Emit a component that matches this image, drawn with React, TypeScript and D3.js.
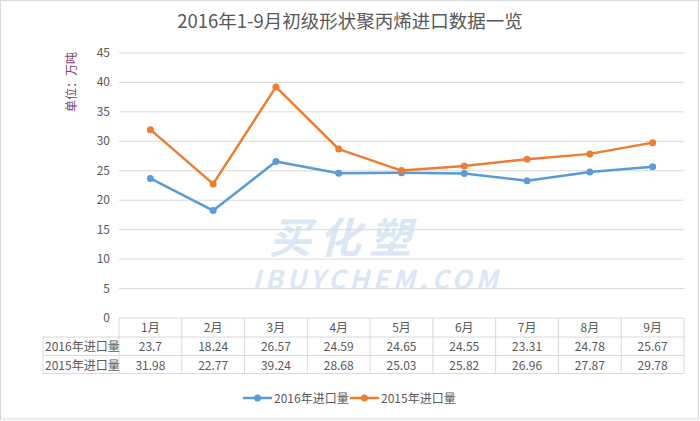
import React from "react";
import * as d3 from "d3";

const months = ["1月", "2月", "3月", "4月", "5月", "6月", "7月", "8月", "9月"];
const series2016 = [23.7, 18.24, 26.57, 24.59, 24.65, 24.55, 23.31, 24.78, 25.67];
const series2015 = [31.98, 22.77, 39.24, 28.68, 25.03, 25.82, 26.96, 27.87, 29.78];
const seriesNames = ["2016年进口量", "2015年进口量"];
const seriesColors = ["#5B9BD5", "#ED7D31"];
const yTicks = [0, 5, 10, 15, 20, 25, 30, 35, 40, 45];
const title = "2016年1-9月初级形状聚丙烯进口数据一览";
const yLabel = "单位：万吨";

const W = 700;
const H = 421;
const left = 119;
const right = 684;
const top = 53;
const bottom = 318;
const font = "'Microsoft YaHei', 'Noto Sans CJK SC', 'DejaVu Sans', sans-serif";

export default function App() {
  const x = d3.scaleBand<string>().domain(months).range([left, right]);
  const y = d3.scaleLinear().domain([0, 45]).range([bottom, top]);
  const line = d3
    .line<number>()
    .x((_, i) => (x(months[i]) as number) + x.bandwidth() / 2)
    .y((d) => y(d));
  const data = [series2016, series2015];
  const rowY = [318, 337, 355.5, 373.5];
  const labelLeft = 43;
  const legendX = [243, 350];

  return (
    <svg
      width={W}
      height={H}
      style={{ position: "absolute", left: 0, top: 0, background: "#fff" }}
      fontFamily={font}
    >
      <rect x={0.5} y={0.5} width={698} height={418.5} fill="#fff" stroke="#d9d9d9" />
      <text x={350} y={28} textAnchor="middle" fontSize={18.5} fill="#595959">
        {title}
      </text>
      <text
        transform="translate(76,82) rotate(-90)"
        textAnchor="middle"
        fontSize={12}
        fill="#7a3e6e"
      >
        {yLabel}
      </text>
      <g opacity={0.5}>
        <text
          x={344}
          y={253}
          textAnchor="middle"
          fontSize={42}
          fontWeight="bold"
          fontStyle="italic"
          fill="#b9d1ea"
          letterSpacing={8}
        >
          买化塑
        </text>
        <text
          x={377}
          y={289}
          textAnchor="middle"
          fontSize={26}
          fontWeight="bold"
          fontStyle="italic"
          fill="#b9d1ea"
          letterSpacing={4}
        >
          IBUYCHEM.COM
        </text>
      </g>
      {yTicks.map((t) => (
        <g key={t}>
          {t > 0 && (
            <line x1={left} x2={right} y1={y(t)} y2={y(t)} stroke="#d9d9d9" strokeWidth={1} />
          )}
          <text x={110} y={y(t) + 4} textAnchor="end" fontSize={12} fill="#595959">
            {t}
          </text>
        </g>
      ))}
      <g stroke="#d9d9d9" strokeWidth={1} fill="none">
        <line x1={left} x2={right} y1={rowY[0]} y2={rowY[0]} />
        <line x1={labelLeft} x2={right} y1={rowY[1]} y2={rowY[1]} />
        <line x1={labelLeft} x2={right} y1={rowY[2]} y2={rowY[2]} />
        <line x1={labelLeft} x2={right} y1={rowY[3]} y2={rowY[3]} />
        <line x1={labelLeft} x2={labelLeft} y1={rowY[1]} y2={rowY[3]} />
        {months.map((m) => (
          <line key={m} x1={x(m)} x2={x(m)} y1={rowY[0]} y2={rowY[3]} />
        ))}
        <line x1={right} x2={right} y1={rowY[0]} y2={rowY[3]} />
      </g>
      {months.map((m, i) => (
        <g key={m}>
          <text
            x={(x(m) as number) + x.bandwidth() / 2}
            y={332}
            textAnchor="middle"
            fontSize={12}
            fill="#595959"
          >
            {m}
          </text>
          {data.map((s, si) => (
            <text
              key={si}
              x={(x(m) as number) + x.bandwidth() / 2}
              y={rowY[si + 1] + 14}
              textAnchor="middle"
              fontSize={12}
              fill="#595959"
            >
              {s[i]}
            </text>
          ))}
        </g>
      ))}
      {seriesNames.map((n, si) => (
        <text key={n} x={labelLeft + 2} y={rowY[si + 1] + 14} fontSize={12} fill="#595959">
          {n}
        </text>
      ))}
      {data.map((s, si) => (
        <g key={si}>
          <path
            d={line(s) || ""}
            fill="none"
            stroke={seriesColors[si]}
            strokeWidth={2.5}
            strokeLinejoin="round"
          />
          {s.map((v, i) => (
            <circle
              key={i}
              cx={(x(months[i]) as number) + x.bandwidth() / 2}
              cy={y(v)}
              r={3.5}
              fill={seriesColors[si]}
            />
          ))}
        </g>
      ))}
      {seriesNames.map((n, si) => {
        const lx = legendX[si];
        return (
          <g key={n}>
            <line x1={lx} x2={lx + 29} y1={398} y2={398} stroke={seriesColors[si]} strokeWidth={2.5} />
            <circle cx={lx + 14.5} cy={398} r={3.5} fill={seriesColors[si]} />
            <text x={lx + 31} y={402.5} fontSize={12} fill="#595959">
              {n}
            </text>
          </g>
        );
      })}
    </svg>
  );
}
